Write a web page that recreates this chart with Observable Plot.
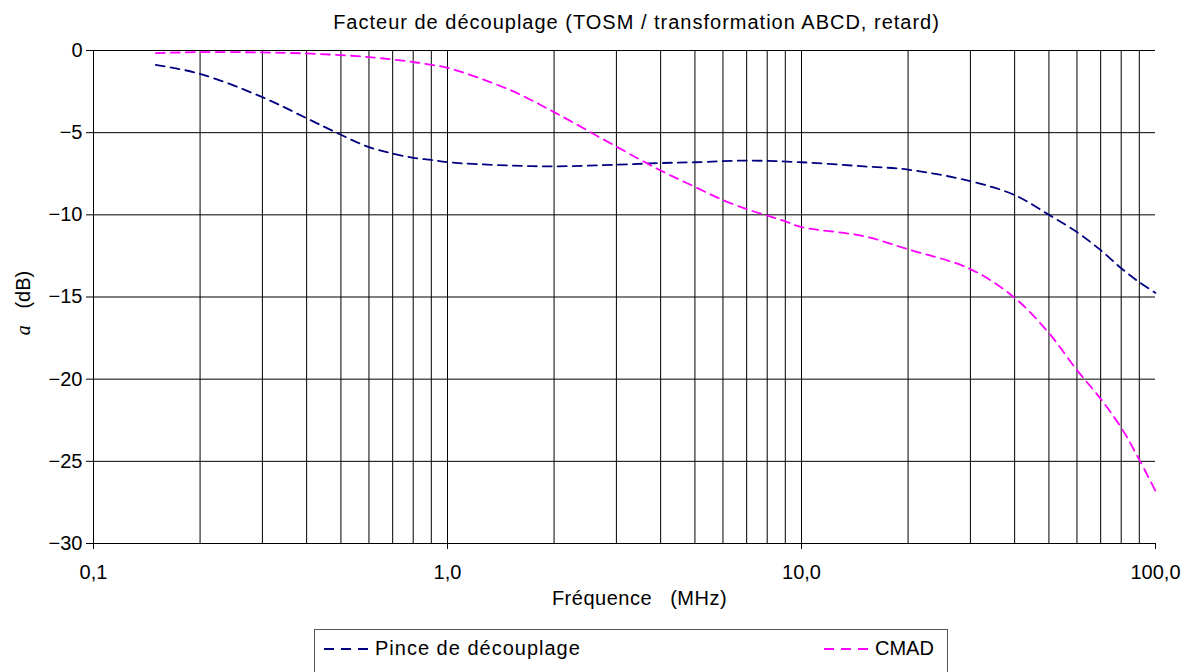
<!DOCTYPE html>
<html><head><meta charset="utf-8">
<script src="https://cdn.jsdelivr.net/npm/d3@7"></script>
<script src="https://cdn.jsdelivr.net/npm/@observablehq/plot@0.6"></script>
<style>
body{margin:0;background:#fff;font-family:"Liberation Sans",Arial,sans-serif;}
#wrap{position:relative;width:1184px;height:672px;overflow:hidden;}
#legend{position:absolute;left:314px;top:629px;width:634px;height:44px;border:1px solid #555;box-sizing:border-box;background:#fff;}
.item{position:absolute;top:7px;display:flex;align-items:center;font-size:20px;color:#000;white-space:nowrap;}
.item svg{margin-right:5px;}
</style></head><body><div id="wrap"></div>
<script>
const title = "Facteur de découplage (TOSM / transformation ABCD, retard)";
const xLabel = "Fréquence   (MHz)";
const seriesNames = ["Pince de découplage", "CMAD"];
const seriesColors = ["#000080", "#ff00ff"];

const freqPince = [0.15,0.2,0.3,0.4,0.5,0.6,0.7,0.8,0.9,1,1.5,2,3,4,5,7,10,15,20,30,40,50,60,70,80,90,100];
const valPince  = [-0.87,-1.42,-2.84,-4.12,-5.13,-5.88,-6.27,-6.53,-6.66,-6.8,-7.0,-7.05,-6.95,-6.85,-6.8,-6.7,-6.8,-7.05,-7.25,-7.95,-8.8,-10.0,-11.05,-12.15,-13.25,-14.1,-14.75];

const freqCmad = [0.15,0.2,0.3,0.4,0.5,0.6,0.7,0.8,0.9,1,1.5,2,3,4,5,6,7,8,9,10,15,20,30,40,50,60,70,80,90,100];
const valCmad  = [-0.16,-0.1,-0.12,-0.18,-0.28,-0.4,-0.55,-0.7,-0.88,-1.05,-2.4,-3.75,-5.85,-7.3,-8.3,-9.1,-9.65,-10.05,-10.4,-10.75,-11.3,-12.1,-13.3,-15.05,-17.2,-19.45,-21.2,-22.95,-24.9,-26.8];

const xTicks = [0.1, 1, 10, 100];
const xTickLabels = ["0,1", "1,0", "10,0", "100,0"];
const yTicks = [0, -5, -10, -15, -20, -25, -30];
const vGrid = [0.2,0.3,0.4,0.5,0.6,0.7,0.8,0.9,1,2,3,4,5,6,7,8,9,10,20,30,40,50,60,70,80,90];
const hGrid = [0, -5, -10, -15, -20, -25];

const pince = freqPince.map((f, i) => ({f, a: valPince[i], s: seriesNames[0]}));
const cmad = freqCmad.map((f, i) => ({f, a: valCmad[i], s: seriesNames[1]}));

const chart = Plot.plot({
  width: 1184, height: 672,
  marginLeft: 93, marginRight: 29, marginTop: 50, marginBottom: 129,
  style: {fontFamily: "'Liberation Sans', Arial, sans-serif", fontSize: "20px", background: "#fff", color: "#000"},
  x: {type: "log", domain: [0.1, 100]},
  y: {domain: [-30, 0]},
  marks: [
    Plot.ruleX(vGrid, {stroke: "#000", strokeWidth: 1}),
    Plot.ruleY(hGrid, {stroke: "#000", strokeWidth: 1}),
    Plot.ruleY([-30], {stroke: "#000", strokeWidth: 1}),
    Plot.ruleX([0.1], {stroke: "#000", strokeWidth: 1}),
    Plot.axisX({ticks: xTicks, tickFormat: d => xTickLabels[xTicks.indexOf(d)], tickSize: 6, tickPadding: 15, fontSize: 20, label: null}),
    Plot.axisY({ticks: yTicks, tickFormat: d => d < 0 ? "\u2212" + Math.abs(d) : String(d), tickSize: 7, tickPadding: 4, fontSize: 20, label: null}),
    Plot.line(pince, {x: "f", y: "a", stroke: seriesColors[0], strokeWidth: 1.8, strokeDasharray: "9,6", curve: "catmull-rom"}),
    Plot.line(cmad, {x: "f", y: "a", stroke: seriesColors[1], strokeWidth: 1.8, strokeDasharray: "9,6", curve: "catmull-rom"}),
    Plot.text([title], {frameAnchor: "top", dy: -36, dx: 12, fontSize: 20, fill: "#000", className: "ttl"}),
    Plot.text([xLabel], {frameAnchor: "bottom", dy: 61, dx: 15, fontSize: 20, fill: "#000", className: "xlbl"})
  ]
});
const svg = d3.select(chart);
svg.selectAll("text").style("white-space", "pre");
svg.selectAll(".ttl text").style("letter-spacing", "1px");
svg.selectAll(".xlbl text").style("letter-spacing", "0.5px");
const yl = svg.append("text")
  .attr("transform", "translate(23,303) rotate(-90)")
  .attr("text-anchor", "middle")
  .attr("dominant-baseline", "central")
  .attr("font-size", 20)
  .attr("fill", "#000")
  .style("white-space", "pre");
yl.append("tspan").attr("font-family", "'Liberation Serif', 'Times New Roman', serif").attr("font-style", "italic").text("a");
yl.append("tspan").attr("font-family", "'Liberation Sans', Arial, sans-serif").text("   (dB)");

const wrap = document.getElementById("wrap");
wrap.appendChild(chart);

const legend = document.createElement("div");
legend.id = "legend";
const positions = [8, 508];
const spacing = ["1px", "0px"];
seriesNames.forEach((name, i) => {
  const it = document.createElement("div");
  it.className = "item";
  it.style.left = positions[i] + "px";
  it.innerHTML = `<svg width="47" height="10"><line x1="1" y1="5" x2="47" y2="5" stroke="${seriesColors[i]}" stroke-width="2" stroke-dasharray="10,7"/></svg><span style="letter-spacing:${spacing[i]}">${name}</span>`;
  legend.appendChild(it);
});
wrap.appendChild(legend);
</script>
</body></html>
